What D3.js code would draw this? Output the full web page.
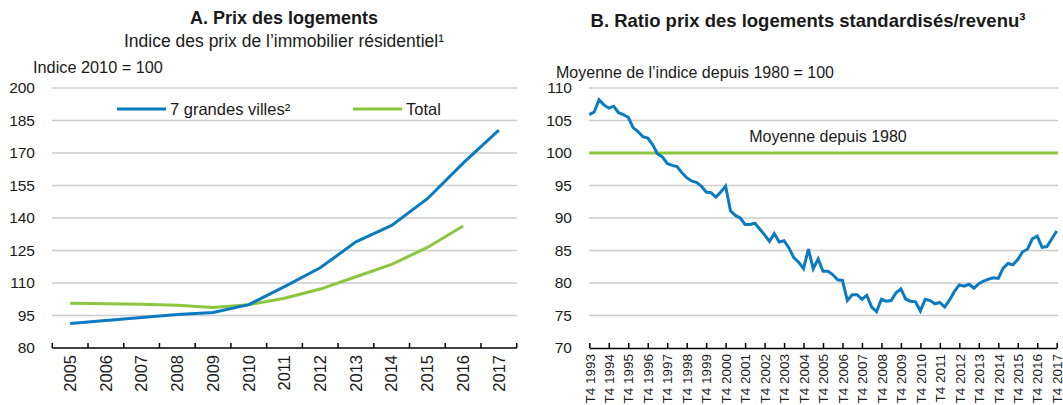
<!DOCTYPE html>
<html lang="fr">
<head>
<meta charset="UTF-8">
<title>Prix des logements</title>
<style>
  body { margin: 0; background: #fff; }
  svg text { font-family: "Liberation Sans", Arial, sans-serif; fill: #1a1a1a; }
  .grid line { stroke: #cccccc; stroke-width: 1.5; }
  .axis path, .axis line { stroke: #000; stroke-width: 1.5; }
</style>
</head>
<body>
<svg width="1063" height="405"></svg>
<script src="https://cdn.jsdelivr.net/npm/d3@7/dist/d3.min.js"></script>
<script>

// panel A : indices annuels
var years = ["2005", "2006", "2007", "2008", "2009", "2010", "2011", "2012", "2013", "2014", "2015", "2016", "2017"];
var grandesVilles = [91.3, 92.7, 94.1, 95.5, 96.4, 100, 108.3, 117.0, 129.0, 136.6, 148.9, 165.3, 180.6];
var total = [100.7, 100.4, 100.2, 99.7, 98.7, 100, 103.0, 107.2, 112.9, 118.6, 126.4, 136.3];
var yTicksA = [80, 95, 110, 125, 140, 155, 170, 185, 200];

// panel B : ratio trimestriel, T4 1993 -> T4 2017
var quarterLabels = ["T4 1993", "T4 1994", "T4 1995", "T4 1996", "T4 1997", "T4 1998", "T4 1999", "T4 2000",
    "T4 2001", "T4 2002", "T4 2003", "T4 2004", "T4 2005", "T4 2006", "T4 2007", "T4 2008", "T4 2009",
    "T4 2010", "T4 2011", "T4 2012", "T4 2013", "T4 2014", "T4 2015", "T4 2016", "T4 2017"];
var ratio = [
    105.9, 106.3, 108.2, 107.4, 106.9, 107.2, 106.2, 105.9, 105.5, 103.9,
    103.3, 102.5, 102.3, 101.3, 99.9, 99.4, 98.4, 98.1, 97.9, 97.0,
    96.2, 95.7, 95.5, 94.9, 94.0, 93.9, 93.2, 94.0, 94.9, 91.1,
    90.4, 90.0, 89.0, 89.0, 89.2, 88.3, 87.4, 86.4, 87.6, 86.3,
    86.5, 85.4, 83.9, 83.2, 82.2, 85.2, 82.2, 83.7, 81.8, 81.8,
    81.3, 80.5, 80.4, 77.3, 78.2, 78.2, 77.5, 78.1, 76.3, 75.6,
    77.5, 77.2, 77.3, 78.5, 79.1, 77.5, 77.2, 77.1, 75.7, 77.5,
    77.3, 76.8, 77.0, 76.3, 77.4, 78.7, 79.7, 79.5, 79.8, 79.2,
    79.9, 80.3, 80.6, 80.8, 80.7, 82.3, 83.0, 82.8, 83.6, 84.8,
    85.2, 86.8, 87.2, 85.5, 85.6, 86.8, 88.0];
var moyenne = 100;
var yTicksB = [70, 75, 80, 85, 90, 95, 100, 105, 110];

var blue = "#0b7bc1", green = "#8cc63f";
var plotTop = 88, plotBottom = 348;

var svg = d3.select("svg");

// ---------- Panel A ----------
var xA = d3.scaleBand().domain(years).range([52.3, 516.7]);
var yA = d3.scaleLinear().domain([80, 200]).range([plotBottom, plotTop]);
var cx = function(d) { return xA(d) + xA.bandwidth() / 2; };

svg.append("text").attr("x", 284).attr("y", 24).attr("text-anchor", "middle")
    .style("font-size", "18px").style("font-weight", "bold").text("A. Prix des logements");
svg.append("text").attr("x", 284).attr("y", 47).attr("text-anchor", "middle")
    .style("font-size", "17.5px").text("Indice des prix de l\u2019immobilier r\u00e9sidentiel\u00b9");
svg.append("text").attr("x", 33).attr("y", 73)
    .style("font-size", "16.3px").text("Indice 2010 = 100");

svg.append("g").attr("class", "grid")
    .selectAll("line").data(yTicksA.slice(1)).enter().append("line")
    .attr("x1", 52).attr("x2", 517)
    .attr("y1", function(d) { return yA(d); }).attr("y2", function(d) { return yA(d); });

svg.append("g").selectAll("text").data(yTicksA).enter().append("text")
    .attr("x", 35).attr("y", function(d) { return yA(d); }).attr("dy", "0.35em")
    .attr("text-anchor", "end").style("font-size", "15.5px")
    .text(function(d) { return d; });

var axA = svg.append("g").attr("class", "axis").attr("transform", "translate(0," + plotBottom + ")")
    .call(d3.axisBottom(xA).tickSize(0).tickSizeOuter(0));
axA.select(".domain").remove();
axA.selectAll("text")
    .attr("transform", "rotate(-90)").attr("text-anchor", "end")
    .attr("x", -7).attr("y", 0).attr("dy", "0.35em")
    .style("font-size", "16.5px").style("font-family", null).style("fill", "#1a1a1a");
axA.append("line").attr("x1", 52.3).attr("x2", 516.7).attr("y1", 0).attr("y2", 0);
axA.selectAll(".bt").data(years.concat(["end"])).enter().append("line").attr("class", "bt")
    .attr("x1", function(d) { return d === "end" ? xA.range()[1] : xA(d); })
    .attr("x2", function(d) { return d === "end" ? xA.range()[1] : xA(d); })
    .attr("y1", 0).attr("y2", -5);

var lineA = d3.line().x(function(d, i) { return cx(years[i]); }).y(function(d) { return yA(d); });
svg.append("path").datum(total).attr("d", lineA)
    .attr("fill", "none").attr("stroke", green).attr("stroke-width", 3);
svg.append("path").datum(grandesVilles).attr("d", lineA)
    .attr("fill", "none").attr("stroke", blue).attr("stroke-width", 3);

// legende
var legend = [{ name: "7 grandes villes\u00b2", color: blue, x: 117 }, { name: "Total", color: green, x: 353 }];
var lg = svg.append("g").selectAll("g").data(legend).enter().append("g");
lg.append("line").attr("x1", function(d) { return d.x; }).attr("x2", function(d) { return d.x + 49; })
    .attr("y1", 109).attr("y2", 109).attr("stroke", function(d) { return d.color; }).attr("stroke-width", 3);
lg.append("text").attr("x", function(d) { return d.x + 53; }).attr("y", 109).attr("dy", "0.35em")
    .style("font-size", "16.5px").text(function(d) { return d.name; });

// ---------- Panel B ----------
var xB = d3.scaleLinear().domain([0, ratio.length - 1]).range([589.3, 1056.7]);
var yB = d3.scaleLinear().domain([70, 110]).range([plotBottom, plotTop]);

svg.append("text").attr("x", 808).attr("y", 27).attr("text-anchor", "middle")
    .style("font-size", "18.5px").style("font-weight", "bold")
    .text("B. Ratio prix des logements standardis\u00e9s/revenu\u00b3");
svg.append("text").attr("x", 556).attr("y", 78)
    .style("font-size", "16px").text("Moyenne de l\u2019indice depuis 1980 = 100");

svg.append("g").attr("class", "grid")
    .selectAll("line").data(yTicksB.slice(1)).enter().append("line")
    .attr("x1", 589).attr("x2", 1058)
    .attr("y1", function(d) { return yB(d); }).attr("y2", function(d) { return yB(d); });

svg.append("g").selectAll("text").data(yTicksB).enter().append("text")
    .attr("x", 572).attr("y", function(d) { return yB(d); }).attr("dy", "0.35em")
    .attr("text-anchor", "end").style("font-size", "15.5px")
    .text(function(d) { return d; });

var tickIdx = quarterLabels.map(function(d, i) { return i * 4; });
var axB = svg.append("g").attr("class", "axis").attr("transform", "translate(0," + plotBottom + ")")
    .call(d3.axisBottom(xB).tickValues(tickIdx).tickSizeInner(-5).tickSizeOuter(0)
        .tickFormat(function(d, i) { return quarterLabels[i]; }));
axB.selectAll("text")
    .attr("transform", "rotate(-90)").attr("text-anchor", "end")
    .attr("x", -6).attr("y", 0).attr("dy", "0.35em")
    .style("font-size", "13.5px").style("font-family", null).style("fill", "#1a1a1a");

svg.append("line").attr("x1", xB(0)).attr("x2", 1058)
    .attr("y1", yB(moyenne)).attr("y2", yB(moyenne))
    .attr("stroke", green).attr("stroke-width", 3);
svg.append("text").attr("x", 828).attr("y", yB(105) + 16).attr("dy", "0.35em")
    .attr("text-anchor", "middle").style("font-size", "16px").text("Moyenne depuis 1980");

svg.append("path").datum(ratio)
    .attr("d", d3.line().x(function(d, i) { return xB(i); }).y(function(d) { return yB(d); }))
    .attr("fill", "none").attr("stroke", blue).attr("stroke-width", 3);

</script>
</body>
</html>
